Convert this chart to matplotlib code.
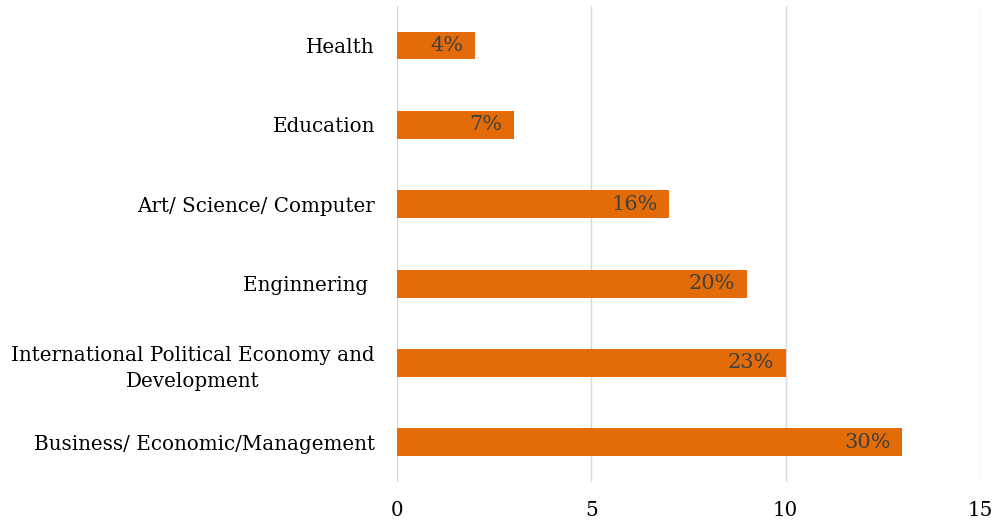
import matplotlib
matplotlib.use("Agg")
import matplotlib.pyplot as plt

categories = [
    "Business/ Economic/Management",
    "International Political Economy and\nDevelopment",
    "Enginnering ",
    "Art/ Science/ Computer",
    "Education",
    "Health",
]
counts = [13, 10, 9, 7, 3, 2]
pct_labels = ["30%", "23%", "20%", "16%", "7%", "4%"]
x_ticks = [0, 5, 10, 15]

plt.rcParams["font.family"] = ["DejaVu Serif"]

fig = plt.figure(figsize=(9.94, 5.26), dpi=100)
ax = fig.add_axes([0.3994, 0.0837, 0.5865, 0.905])

ypos = range(len(categories))
bars = ax.barh(ypos, counts, height=0.35, color="#E36C09", zorder=3)

for b, lab in zip(bars, pct_labels):
    ax.text(b.get_width() - 0.3, b.get_y() + b.get_height() / 2, lab,
            ha="right", va="center", fontsize=15, color="#404040", zorder=4)

ax.set_xlim(0, 15)
ax.set_ylim(-0.5, 5.5)
ax.set_xticks(x_ticks)
ax.set_yticks(list(ypos))
ax.set_yticklabels(categories, multialignment="center", linespacing=1.45)
ax.tick_params(axis="both", length=0, labelsize=14.3, colors="black")
ax.tick_params(axis="y", pad=16)
ax.tick_params(axis="x", pad=14)
ax.grid(axis="x", color="#D9D9D9", linewidth=1, zorder=0)
for s in ax.spines.values():
    s.set_visible(False)

fig.savefig("out.png", dpi=100)
